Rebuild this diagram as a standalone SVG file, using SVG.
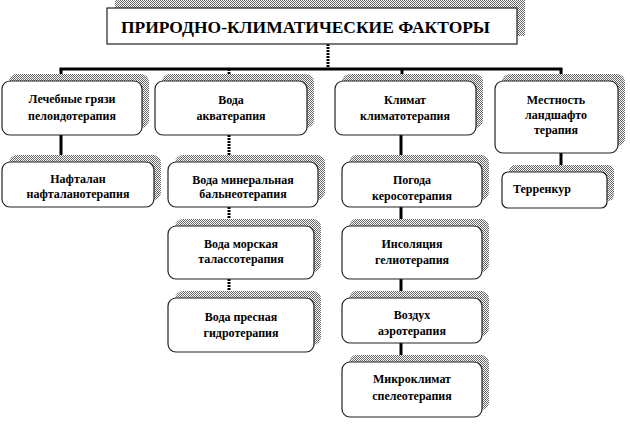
<svg xmlns="http://www.w3.org/2000/svg" width="630" height="429" viewBox="0 0 630 429">
<defs>
<pattern id="hatch" width="2" height="2" patternUnits="userSpaceOnUse">
<rect width="2" height="2" fill="#ffffff"/>
<rect width="1" height="1" fill="#666666"/>
<rect x="1" y="1" width="1" height="1" fill="#666666"/>
</pattern>
</defs>
<style>
.sh{fill:url(#hatch);stroke:none}
.bx{fill:#ffffff;stroke:#222;stroke-width:1.2}
.t{font-family:"Liberation Serif","Times New Roman",serif;font-weight:bold;font-size:12px;fill:#000;text-anchor:middle}
.ttl{font-family:"Liberation Serif","Times New Roman",serif;font-weight:bold;font-size:17px;fill:#000}
.c{stroke:#000;stroke-width:3;fill:none}
.cd{stroke:#000;stroke-width:3;fill:none;stroke-dasharray:2 1}
</style>
<g id="connectors">
<line class="cd" x1="328" y1="44" x2="328" y2="69"/>
<line class="c" x1="59.5" y1="69" x2="562.5" y2="69"/>
<line class="c" x1="61" y1="69" x2="61" y2="75"/>
<line class="cd" x1="229" y1="69" x2="229" y2="75"/>
<line class="c" x1="402" y1="69" x2="402" y2="75"/>
<line class="c" x1="561" y1="69" x2="561" y2="75"/>
<path d="M57,74 L65,74 L61,81 Z"/>
<path d="M225,74 L233,74 L229,81 Z"/>
<path d="M398,74 L406,74 L402,81 Z"/>
<path d="M557,74 L565,74 L561,81 Z"/>
<line class="c" x1="61" y1="135" x2="61" y2="162"/>
<line class="cd" x1="229" y1="135" x2="229" y2="162"/>
<line class="cd" x1="229" y1="207" x2="229" y2="226"/>
<line class="cd" x1="229" y1="279" x2="229" y2="298"/>
<line class="c" x1="401" y1="135" x2="401" y2="162"/>
<line class="c" x1="401" y1="207" x2="401" y2="226"/>
<line class="c" x1="401" y1="279" x2="401" y2="298"/>
<line class="c" x1="401" y1="343" x2="401" y2="362"/>
<line class="c" x1="561" y1="153" x2="561" y2="172"/>
</g>
<g id="title">
<rect class="sh" x="115" y="0" width="410" height="36"/>
<rect class="bx" x="107" y="8" width="410" height="36"/>
<text class="ttl" x="121" y="33" textLength="369" lengthAdjust="spacingAndGlyphs">ПРИРОДНО-КЛИМАТИЧЕСКИЕ ФАКТОРЫ</text>
</g>
<g id="n-gryazi">
<rect class="sh" x="9" y="74" width="140" height="54" rx="8"/>
<rect class="bx" x="2" y="81" width="140" height="54" rx="8"/>
<text class="t" x="72" y="103">Лечебные грязи</text>
<text class="t" x="72" y="120">пелоидотерапия</text>
</g>
<g id="n-voda">
<rect class="sh" x="162" y="74" width="152" height="54" rx="8"/>
<rect class="bx" x="155" y="81" width="152" height="54" rx="8"/>
<text class="t" x="231" y="104">Вода</text>
<text class="t" x="231" y="120">акватерапия</text>
</g>
<g id="n-klimat">
<rect class="sh" x="342" y="74" width="141" height="54" rx="8"/>
<rect class="bx" x="335" y="81" width="141" height="54" rx="8"/>
<text class="t" x="405" y="104">Климат</text>
<text class="t" x="405" y="120">климатотерапия</text>
</g>
<g id="n-mestnost">
<rect class="sh" x="502" y="74" width="123" height="72" rx="8"/>
<rect class="bx" x="495" y="81" width="123" height="72" rx="8"/>
<text class="t" x="556" y="104">Местность</text>
<text class="t" x="556" y="119">ландшафто</text>
<text class="t" x="556" y="134">терапия</text>
</g>
<g id="n-naftalan">
<rect class="sh" x="9" y="155" width="152" height="45" rx="8"/>
<rect class="bx" x="2" y="162" width="152" height="45" rx="8"/>
<text class="t" x="78" y="183">Нафталан</text>
<text class="t" x="78" y="198">нафталанотерапия</text>
</g>
<g id="n-mineral">
<rect class="sh" x="175" y="155" width="150" height="45" rx="8"/>
<rect class="bx" x="168" y="162" width="150" height="45" rx="8"/>
<text class="t" x="243" y="184">Вода минеральная</text>
<text class="t" x="243" y="198">бальнеотерапия</text>
</g>
<g id="n-morskaya">
<rect class="sh" x="175" y="219" width="146" height="53" rx="8"/>
<rect class="bx" x="168" y="226" width="146" height="53" rx="8"/>
<text class="t" x="241" y="248">Вода морская</text>
<text class="t" x="241" y="263">талассотерапия</text>
</g>
<g id="n-presnaya">
<rect class="sh" x="175" y="291" width="146" height="54" rx="8"/>
<rect class="bx" x="168" y="298" width="146" height="54" rx="8"/>
<text class="t" x="241" y="321">Вода пресная</text>
<text class="t" x="241" y="337">гидротерапия</text>
</g>
<g id="n-pogoda">
<rect class="sh" x="349" y="155" width="140" height="45" rx="8"/>
<rect class="bx" x="342" y="162" width="140" height="45" rx="8"/>
<text class="t" x="412" y="184">Погода</text>
<text class="t" x="412" y="200">керосотерапия</text>
</g>
<g id="n-insolyatsiya">
<rect class="sh" x="349" y="219" width="140" height="53" rx="8"/>
<rect class="bx" x="342" y="226" width="140" height="53" rx="8"/>
<text class="t" x="412" y="248">Инсоляция</text>
<text class="t" x="412" y="264">гелиотерапия</text>
</g>
<g id="n-vozdukh">
<rect class="sh" x="349" y="291" width="140" height="45" rx="8"/>
<rect class="bx" x="342" y="298" width="140" height="45" rx="8"/>
<text class="t" x="412" y="319">Воздух</text>
<text class="t" x="412" y="335">аэротерапия</text>
</g>
<g id="n-mikroklimat">
<rect class="sh" x="349" y="355" width="140" height="55" rx="8"/>
<rect class="bx" x="342" y="362" width="140" height="55" rx="8"/>
<text class="t" x="412" y="383">Микроклимат</text>
<text class="t" x="412" y="400">спелеотерапия</text>
</g>
<g id="n-terrenkur">
<rect class="sh" x="509" y="165" width="105" height="36" rx="6"/>
<rect class="bx" x="502" y="172" width="105" height="36" rx="6"/>
<text class="t" x="513" y="193" style="text-anchor:start">Терренкур</text>
</g>
</svg>
